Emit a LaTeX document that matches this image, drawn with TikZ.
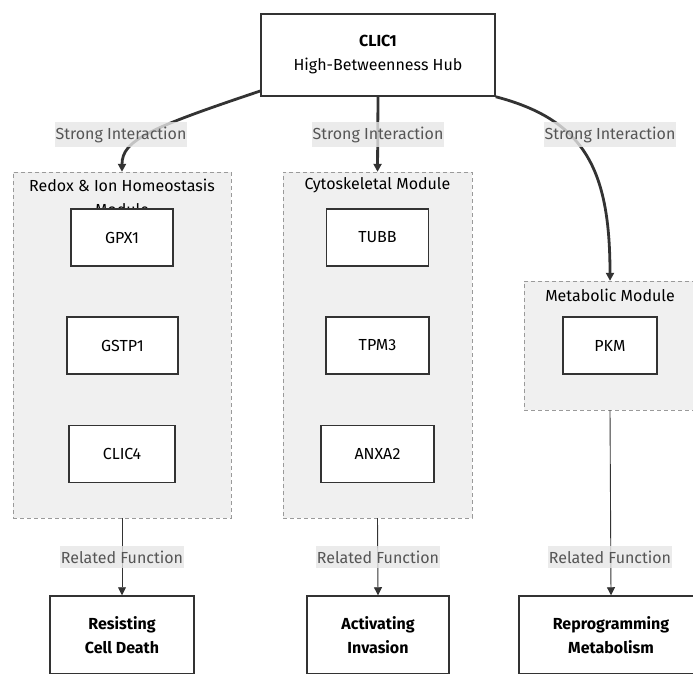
\documentclass[tikz,border=0pt]{standalone}
\usepackage{fontspec}
\setmainfont{Fira Sans}
\usetikzlibrary{arrows.meta}
\definecolor{edgegray}{HTML}{333333}
\definecolor{clusterfill}{HTML}{F0F0F0}
\definecolor{clusterline}{HTML}{9A9A9A}
\definecolor{labelfill}{HTML}{E6E6E6}
\definecolor{labeltext}{HTML}{555555}

\begin{document}
\begin{tikzpicture}[x=1pt,y=-1pt,
  gene/.style={draw=edgegray,line width=1.5pt,fill=white,inner sep=0pt,
    minimum height=57pt,font=\fontsize{16}{19}\selectfont},
  hallmark/.style={draw=edgegray,line width=1.5pt,fill=white,inner sep=0pt,
    minimum height=78pt,align=center,font=\bfseries\fontsize{16}{24}\selectfont},
  cluster/.style={draw=clusterline,dashed,dash pattern=on 4pt off 3pt,fill=clusterfill,
    inner sep=0pt},
  clustertitle/.style={inner sep=0pt,align=center,font=\fontsize{16}{24}\selectfont},
  edgelabel/.style={fill=labelfill,fill opacity=0.8,text opacity=1,text=labeltext,
    inner xsep=1pt,inner ysep=5pt,font=\fontsize{16}{19}\selectfont},
  strong/.style={draw=edgegray,line width=2.8pt,-{Triangle[length=8pt,width=8pt]}},
  related/.style={draw=edgegray,line width=0.9pt,-{Triangle[length=8pt,width=8pt]}}]
\clip (0,0) rectangle (693,673);

% hub
\node[draw=edgegray,line width=1.5pt,fill=white,minimum width=234pt,minimum height=82pt,
  align=center,font=\fontsize{16}{24}\selectfont] (hub) at (378,55)
  {\textbf{CLIC1}\\High-Betweenness Hub};

% modules
\node[cluster,minimum width=218pt,minimum height=346pt] (redox) at (122,345) {};
\node[clustertitle] (redoxtitle) at (122,197) {Redox \& Ion Homeostasis\\Module};
\node[cluster,minimum width=189pt,minimum height=346pt] (cyto) at (377.5,345) {};
\node[clustertitle] (cytotitle) at (377.5,185) {Cytoskeletal Module};
\node[cluster,minimum width=172pt,minimum height=129pt] (metab) at (610,345.5) {};
\node[clustertitle] (metabtitle) at (610,295) {Metabolic Module};

% genes
\node[gene,minimum width=102pt] (gpx1) at (122,237.5) {GPX1};
\node[gene,minimum width=111pt] (gstp1) at (122.5,345.5) {GSTP1};
\node[gene,minimum width=106pt] (clic4) at (122,454) {CLIC4};
\node[gene,minimum width=102pt] (tubb) at (377.5,237.5) {TUBB};
\node[gene,minimum width=103pt] (tpm3) at (377.5,345.5) {TPM3};
\node[gene,minimum width=113pt] (anxa2) at (377.5,454) {ANXA2};
\node[gene,minimum width=94pt] (pkm) at (610,345.5) {PKM};

% hallmarks
\node[hallmark,minimum width=144pt] (death) at (122,635) {Resisting\\Cell Death};
\node[hallmark,minimum width=142pt] (invasion) at (378,635) {Activating\\Invasion};
\node[hallmark,minimum width=184pt] (reprog) at (611,635) {Reprogramming\\Metabolism};

% edges
\draw[strong] (hub.197) .. controls (150,128) and (122,140) .. (redox.north);
\draw[strong] (hub.south) -- (cyto.north);
\draw[strong] (hub.south east) .. controls (585,120) and (610,170) .. (metab.north);
\draw[related] (redox.south) -- (death.north);
\draw[related] (cyto.south) -- (invasion.north);
\draw[related] (metab.south) -- (reprog.north);

% edge labels
\node[edgelabel] (s1) at (121,134.5) {Strong Interaction};
\node[edgelabel] (s2) at (378,134.5) {Strong Interaction};
\node[edgelabel] (s3) at (610,134.5) {Strong Interaction};
\node[edgelabel] (r1) at (122,557) {Related Function};
\node[edgelabel] (r2) at (378,557) {Related Function};
\node[edgelabel] (r3) at (610,557) {Related Function};
\end{tikzpicture}
\end{document}
